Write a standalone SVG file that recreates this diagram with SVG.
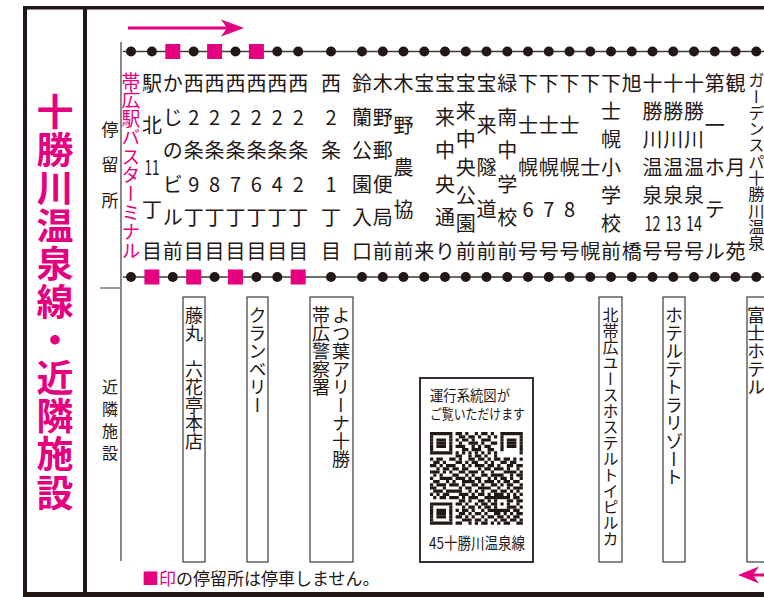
<svg xmlns="http://www.w3.org/2000/svg" xmlns:xlink="http://www.w3.org/1999/xlink" width="764" height="597" viewBox="0 0 764 597">
<style>
text{font-family:"Noto Sans CJK JP","Noto Sans",sans-serif;fill:#231815}
.s{font-size:20px;text-anchor:middle;dominant-baseline:central}
.n2{font-size:19.5px}
.v{writing-mode:vertical-rl}
.f{font-size:18px}
.lbl{font-size:17px;text-anchor:middle;dominant-baseline:central}
.pk{fill:#e4007f}
.box{fill:none;stroke:#3e3a39;stroke-width:1.2}
.route{stroke:#3e3a39;stroke-width:1.3;fill:none}
.qr path{stroke:#231815;stroke-width:1;fill:none}
.qt{dominant-baseline:central}
</style>
<defs>
<circle id="dot" r="5" fill="#231815"/>
<rect id="sq" x="-7.5" y="-7.5" width="15" height="15" fill="#e4007f"/>
</defs>
<rect width="764" height="597" fill="#fff"/>
<g id="frame" fill="#231815">
<rect x="23" y="6" width="741" height="3.5"/>
<rect x="23" y="6" width="4" height="591"/>
<rect x="83" y="6" width="4" height="591"/>
<rect x="23" y="592" width="741" height="5"/>
</g>
<g id="title">
<text class="v pk" x="55" y="93" style="font-size:37px;font-weight:700;letter-spacing:1.1px">十勝川温泉線・近隣施設</text>
</g>
<g id="row-labels">
<text class="lbl"><tspan x="110" y="128">停</tspan><tspan x="110" y="163">留</tspan><tspan x="110" y="199">所</tspan></text>
<text class="lbl" style="font-size:16px"><tspan x="110" y="386">近</tspan><tspan x="110" y="408">隣</tspan><tspan x="110" y="430">施</tspan><tspan x="110" y="452">設</tspan></text>
<line x1="100" y1="288" x2="120" y2="288" stroke="#3e3a39" stroke-width="1"/>
<line x1="121" y1="42" x2="121" y2="561" stroke="#3e3a39" stroke-width="1.2"/>
</g>
<g id="connectors">
<line class="route" x1="123" y1="51.5" x2="764" y2="51.5"/>
<line class="route" x1="123" y1="277" x2="764" y2="277"/>
<path d="M128 28H229" stroke="#e4007f" stroke-width="3"/>
<path d="M244 28L221 19.5L227 28L221 36.5Z" fill="#e4007f"/>
<path d="M752 575H764" stroke="#e4007f" stroke-width="3"/>
<path d="M738 575L759 566.5L753 575L759 583.5Z" fill="#e4007f"/>
</g>
<g id="stop-obihiro-bt"><use href="#dot" x="131" y="51.5"/><use href="#dot" x="131" y="277"/><text class="v pk" x="131" y="72" style="font-size:18.8px">帯広駅バスターミナル</text></g>
<g id="stop-ekikita11"><use href="#dot" x="151.9" y="51.5"/><use href="#sq" x="151.9" y="277"/><text class="s"><tspan x="151.9" y="82">駅</tspan><tspan x="151.9" y="124">北</tspan><tspan x="151.9" y="166" class="n2" textLength="15" lengthAdjust="spacingAndGlyphs">11</tspan><tspan x="151.9" y="208">丁</tspan><tspan x="151.9" y="250">目</tspan></text></g>
<g id="stop-kajino"><use href="#sq" x="172.8" y="51.5"/><use href="#dot" x="172.8" y="277"/><text class="s"><tspan x="172.8" y="82">か</tspan><tspan x="172.8" y="115.6">じ</tspan><tspan x="172.8" y="149.2">の</tspan><tspan x="172.8" y="182.8">ビ</tspan><tspan x="172.8" y="216.4">ル</tspan><tspan x="172.8" y="250">前</tspan></text></g>
<g id="stop-w2-9"><use href="#dot" x="193.7" y="51.5"/><use href="#sq" x="193.7" y="277"/><text class="s"><tspan x="193.7" y="82">西</tspan><tspan x="193.7" y="115.6">2</tspan><tspan x="193.7" y="149.2">条</tspan><tspan x="193.7" y="182.8">9</tspan><tspan x="193.7" y="216.4">丁</tspan><tspan x="193.7" y="250">目</tspan></text></g>
<g id="stop-w2-8"><use href="#sq" x="214.6" y="51.5"/><use href="#dot" x="214.6" y="277"/><text class="s"><tspan x="214.6" y="82">西</tspan><tspan x="214.6" y="115.6">2</tspan><tspan x="214.6" y="149.2">条</tspan><tspan x="214.6" y="182.8">8</tspan><tspan x="214.6" y="216.4">丁</tspan><tspan x="214.6" y="250">目</tspan></text></g>
<g id="stop-w2-7"><use href="#dot" x="235.5" y="51.5"/><use href="#sq" x="235.5" y="277"/><text class="s"><tspan x="235.5" y="82">西</tspan><tspan x="235.5" y="115.6">2</tspan><tspan x="235.5" y="149.2">条</tspan><tspan x="235.5" y="182.8">7</tspan><tspan x="235.5" y="216.4">丁</tspan><tspan x="235.5" y="250">目</tspan></text></g>
<g id="stop-w2-6"><use href="#sq" x="256.4" y="51.5"/><use href="#dot" x="256.4" y="277"/><text class="s"><tspan x="256.4" y="82">西</tspan><tspan x="256.4" y="115.6">2</tspan><tspan x="256.4" y="149.2">条</tspan><tspan x="256.4" y="182.8">6</tspan><tspan x="256.4" y="216.4">丁</tspan><tspan x="256.4" y="250">目</tspan></text></g>
<g id="stop-w2-4"><use href="#dot" x="277.3" y="51.5"/><use href="#dot" x="277.3" y="277"/><text class="s"><tspan x="277.3" y="82">西</tspan><tspan x="277.3" y="115.6">2</tspan><tspan x="277.3" y="149.2">条</tspan><tspan x="277.3" y="182.8">4</tspan><tspan x="277.3" y="216.4">丁</tspan><tspan x="277.3" y="250">目</tspan></text></g>
<g id="stop-w2-2"><use href="#dot" x="298.2" y="51.5"/><use href="#sq" x="298.2" y="277"/><text class="s"><tspan x="298.2" y="82">西</tspan><tspan x="298.2" y="115.6">2</tspan><tspan x="298.2" y="149.2">条</tspan><tspan x="298.2" y="182.8">2</tspan><tspan x="298.2" y="216.4">丁</tspan><tspan x="298.2" y="250">目</tspan></text></g>
<g id="stop-w2-1"><use href="#dot" x="331" y="51.5"/><use href="#dot" x="331" y="277"/><text class="s"><tspan x="331" y="82">西</tspan><tspan x="331" y="115.6">2</tspan><tspan x="331" y="149.2">条</tspan><tspan x="331" y="182.8">1</tspan><tspan x="331" y="216.4">丁</tspan><tspan x="331" y="250">目</tspan></text></g>
<g id="stop-suzuran"><use href="#dot" x="362" y="51.5"/><use href="#dot" x="362" y="277"/><text class="s"><tspan x="362" y="82">鈴</tspan><tspan x="362" y="115.6">蘭</tspan><tspan x="362" y="149.2">公</tspan><tspan x="362" y="182.8">園</tspan><tspan x="362" y="216.4">入</tspan><tspan x="362" y="250">口</tspan></text></g>
<g id="stop-kino-post"><use href="#dot" x="382.8" y="51.5"/><use href="#dot" x="382.8" y="277"/><text class="s"><tspan x="382.8" y="82">木</tspan><tspan x="382.8" y="115.6">野</tspan><tspan x="382.8" y="149.2">郵</tspan><tspan x="382.8" y="182.8">便</tspan><tspan x="382.8" y="216.4">局</tspan><tspan x="382.8" y="250">前</tspan></text></g>
<g id="stop-kino-nokyo"><use href="#dot" x="403.5" y="51.5"/><use href="#dot" x="403.5" y="277"/><text class="s"><tspan x="403.5" y="82">木</tspan><tspan x="403.5" y="124">野</tspan><tspan x="403.5" y="166">農</tspan><tspan x="403.5" y="208">協</tspan><tspan x="403.5" y="250">前</tspan></text></g>
<g id="stop-horai"><use href="#dot" x="424.3" y="51.5"/><use href="#dot" x="424.3" y="277"/><text class="s"><tspan x="424.3" y="82">宝</tspan><tspan x="424.3" y="250">来</tspan></text></g>
<g id="stop-horai-chuo-dori"><use href="#dot" x="445" y="51.5"/><use href="#dot" x="445" y="277"/><text class="s"><tspan x="445" y="82">宝</tspan><tspan x="445" y="115.6">来</tspan><tspan x="445" y="149.2">中</tspan><tspan x="445" y="182.8">央</tspan><tspan x="445" y="216.4">通</tspan><tspan x="445" y="250">り</tspan></text></g>
<g id="stop-horai-chuo-koen"><use href="#dot" x="465.8" y="51.5"/><use href="#dot" x="465.8" y="277"/><text class="s"><tspan x="465.8" y="82">宝</tspan><tspan x="465.8" y="110">来</tspan><tspan x="465.8" y="138">中</tspan><tspan x="465.8" y="166">央</tspan><tspan x="465.8" y="194">公</tspan><tspan x="465.8" y="222">園</tspan><tspan x="465.8" y="250">前</tspan></text></g>
<g id="stop-horai-zuido"><use href="#dot" x="486.5" y="51.5"/><use href="#dot" x="486.5" y="277"/><text class="s"><tspan x="486.5" y="82">宝</tspan><tspan x="486.5" y="124">来</tspan><tspan x="486.5" y="166">隧</tspan><tspan x="486.5" y="208">道</tspan><tspan x="486.5" y="250">前</tspan></text></g>
<g id="stop-midori-minami"><use href="#dot" x="507.3" y="51.5"/><use href="#dot" x="507.3" y="277"/><text class="s"><tspan x="507.3" y="82">緑</tspan><tspan x="507.3" y="115.6">南</tspan><tspan x="507.3" y="149.2">中</tspan><tspan x="507.3" y="182.8">学</tspan><tspan x="507.3" y="216.4">校</tspan><tspan x="507.3" y="250">前</tspan></text></g>
<g id="stop-shimoshihoro6"><use href="#dot" x="528" y="51.5"/><use href="#dot" x="528" y="277"/><text class="s"><tspan x="528" y="82">下</tspan><tspan x="528" y="124">士</tspan><tspan x="528" y="166">幌</tspan><tspan x="528" y="208">6</tspan><tspan x="528" y="250">号</tspan></text></g>
<g id="stop-shimoshihoro7"><use href="#dot" x="548.8" y="51.5"/><use href="#dot" x="548.8" y="277"/><text class="s"><tspan x="548.8" y="82">下</tspan><tspan x="548.8" y="124">士</tspan><tspan x="548.8" y="166">幌</tspan><tspan x="548.8" y="208">7</tspan><tspan x="548.8" y="250">号</tspan></text></g>
<g id="stop-shimoshihoro8"><use href="#dot" x="569.5" y="51.5"/><use href="#dot" x="569.5" y="277"/><text class="s"><tspan x="569.5" y="82">下</tspan><tspan x="569.5" y="124">士</tspan><tspan x="569.5" y="166">幌</tspan><tspan x="569.5" y="208">8</tspan><tspan x="569.5" y="250">号</tspan></text></g>
<g id="stop-shimoshihoro"><use href="#dot" x="590.3" y="51.5"/><use href="#dot" x="590.3" y="277"/><text class="s"><tspan x="590.3" y="82">下</tspan><tspan x="590.3" y="166">士</tspan><tspan x="590.3" y="250">幌</tspan></text></g>
<g id="stop-shimoshihoro-school"><use href="#dot" x="611" y="51.5"/><use href="#dot" x="611" y="277"/><text class="s"><tspan x="611" y="82">下</tspan><tspan x="611" y="110">士</tspan><tspan x="611" y="138">幌</tspan><tspan x="611" y="166">小</tspan><tspan x="611" y="194">学</tspan><tspan x="611" y="222">校</tspan><tspan x="611" y="250">前</tspan></text></g>
<g id="stop-asahibashi"><use href="#dot" x="631.8" y="51.5"/><use href="#dot" x="631.8" y="277"/><text class="s"><tspan x="631.8" y="82">旭</tspan><tspan x="631.8" y="250">橋</tspan></text></g>
<g id="stop-onsen12"><use href="#dot" x="652.5" y="51.5"/><use href="#dot" x="652.5" y="277"/><text class="s"><tspan x="652.5" y="82">十</tspan><tspan x="652.5" y="110">勝</tspan><tspan x="652.5" y="138">川</tspan><tspan x="652.5" y="166">温</tspan><tspan x="652.5" y="194">泉</tspan><tspan x="652.5" y="222" class="n2" textLength="16" lengthAdjust="spacingAndGlyphs">12</tspan><tspan x="652.5" y="250">号</tspan></text></g>
<g id="stop-onsen13"><use href="#dot" x="673.3" y="51.5"/><use href="#dot" x="673.3" y="277"/><text class="s"><tspan x="673.3" y="82">十</tspan><tspan x="673.3" y="110">勝</tspan><tspan x="673.3" y="138">川</tspan><tspan x="673.3" y="166">温</tspan><tspan x="673.3" y="194">泉</tspan><tspan x="673.3" y="222" class="n2" textLength="16" lengthAdjust="spacingAndGlyphs">13</tspan><tspan x="673.3" y="250">号</tspan></text></g>
<g id="stop-onsen14"><use href="#dot" x="694" y="51.5"/><use href="#dot" x="694" y="277"/><text class="s"><tspan x="694" y="82">十</tspan><tspan x="694" y="110">勝</tspan><tspan x="694" y="138">川</tspan><tspan x="694" y="166">温</tspan><tspan x="694" y="194">泉</tspan><tspan x="694" y="222" class="n2" textLength="16" lengthAdjust="spacingAndGlyphs">14</tspan><tspan x="694" y="250">号</tspan></text></g>
<g id="stop-daiichi-hotel"><use href="#dot" x="714.8" y="51.5"/><use href="#dot" x="714.8" y="277"/><text class="s"><tspan x="714.8" y="82">第</tspan><tspan x="714.8" y="124">一</tspan><tspan x="714.8" y="166">ホ</tspan><tspan x="714.8" y="208">テ</tspan><tspan x="714.8" y="250">ル</tspan></text></g>
<g id="stop-kangetsuen"><use href="#dot" x="735.5" y="51.5"/><use href="#dot" x="735.5" y="277"/><text class="s"><tspan x="735.5" y="82">観</tspan><tspan x="735.5" y="166">月</tspan><tspan x="735.5" y="250">苑</tspan></text></g>
<g id="stop-garden-spa"><use href="#dot" x="756.3" y="51.5"/><use href="#dot" x="756.3" y="277"/><text class="v" x="756.3" y="72" style="font-size:16.3px">ガーデンスパ十勝川温泉</text></g>
<g id="fac-fujimaru"><rect class="box" x="183" y="297" width="22" height="265"/><text class="v f" x="194" y="306">藤丸　六花亭本店</text></g>
<g id="fac-cranberry"><rect class="box" x="247" y="297" width="21" height="265"/><text class="v f" x="257.5" y="306">クランベリー</text></g>
<g id="fac-arena"><rect class="box" x="310" y="297" width="43" height="265"/><text class="v f" x="341" y="306">よつ葉アリーナ十勝</text><text class="v f" x="321" y="306">帯広警察署</text></g>
<g id="fac-qr"><rect x="420" y="378" width="113" height="184" fill="none" stroke="#231815" stroke-width="1.8"/>
<text class="qt" x="430" y="394" style="font-size:14.5px" textLength="80" lengthAdjust="spacingAndGlyphs">運行系統図が</text>
<text class="qt" x="430" y="413" style="font-size:13.5px" textLength="95" lengthAdjust="spacingAndGlyphs">ご覧いただけます</text>
<g class="qr" transform="translate(430,432) scale(3.2)">
<path d="M0 0.5h29" stroke-dasharray="7 1 2 1 1 2 1 1 2 1 1 2 7"/>
<path d="M0 1.5h29" stroke-dasharray="1 5 1 2 2 1 2 1 1 2 1 1 1 1 1 5 1"/>
<path d="M0 2.5h29" stroke-dasharray="1 1 3 1 1 1 1 1 2 1 1 2 3 3 1 1 3 1 1"/>
<path d="M0 3.5h29" stroke-dasharray="1 1 3 1 1 2 1 2 3 1 1 2 2 1 1 1 3 1 1"/>
<path d="M0 4.5h29" stroke-dasharray="1 1 3 1 1 1 3 2 1 1 1 1 2 3 1 1 3 1 1"/>
<path d="M0 5.5h29" stroke-dasharray="1 5 1 3 2 1 3 2 2 2 1 5 1"/>
<path d="M0 6.5h29" stroke-dasharray="7 1 1 1 1 1 1 1 1 1 1 1 1 1 1 7"/>
<path d="M0 7.5h29" stroke-dasharray="0 8 2 2 1 1 2 1 1 2 1 8"/>
<path d="M0 8.5h29" stroke-dasharray="1 1 2 2 2 1 1 2 2 1 2 1 1 1 2 1 2 1 1 1 1"/>
<path d="M0 9.5h29" stroke-dasharray="0 1 2 1 1 3 2 1 1 1 2 2 1 1 1 2 2 1 2 2"/>
<path d="M0 10.5h29" stroke-dasharray="2 1 1 1 3 2 1 1 1 1 3 1 2 1 1 2 2 1 2"/>
<path d="M0 11.5h29" stroke-dasharray="0 2 1 1 2 1 2 1 2 3 1 1 2 1 3 1 1 2 1 1"/>
<path d="M0 12.5h29" stroke-dasharray="3 1 1 1 1 2 2 1 3 1 1 2 1 3 4 1 1"/>
<path d="M0 13.5h29" stroke-dasharray="0 1 1 1 1 3 2 2 1 1 1 2 2 1 4 2 1 1 2"/>
<path d="M0 14.5h29" stroke-dasharray="1 2 4 1 3 1 1 1 2 2 1 1 1 1 2 1 1 2 1"/>
<path d="M0 15.5h29" stroke-dasharray="0 1 2 2 1 1 1 2 4 1 1 1 3 1 1 1 2 1 2 1"/>
<path d="M0 16.5h29" stroke-dasharray="1 1 3 1 3 1 1 2 2 1 1 2 2 1 1 1 2 2 1"/>
<path d="M0 17.5h29" stroke-dasharray="2 2 1 4 1 1 2 2 4 2 1 2 1 1 3"/>
<path d="M0 18.5h29" stroke-dasharray="0 1 3 1 5 2 1 1 1 1 1 2 2 1 2 1 1 1 1 1"/>
<path d="M0 19.5h29" stroke-dasharray="1 1 1 1 2 3 3 1 1 1 2 1 1 1 3 1 1 1 1 1 1"/>
<path d="M0 20.5h29" stroke-dasharray="0 1 1 1 2 1 3 1 1 1 3 2 8 1 2 1"/>
<path d="M0 21.5h29" stroke-dasharray="0 9 2 1 1 2 2 1 1 1 1 3 2 1 2"/>
<path d="M0 22.5h29" stroke-dasharray="7 1 2 1 1 2 1 1 2 1 2 1 1 1 1 2 1 1"/>
<path d="M0 23.5h29" stroke-dasharray="1 5 1 3 1 1 2 1 1 1 2 1 1 3 3 1 1"/>
<path d="M0 24.5h29" stroke-dasharray="1 1 3 1 1 1 1 1 2 1 1 2 1 1 7 1 2 1"/>
<path d="M0 25.5h29" stroke-dasharray="1 1 3 1 1 2 2 1 1 1 2 1 1 2 2 1 1 1 1 1 2"/>
<path d="M0 26.5h29" stroke-dasharray="1 1 3 1 1 1 2 1 1 1 1 2 1 1 2 1 2 1 1 1 2 1"/>
<path d="M0 27.5h29" stroke-dasharray="1 5 1 3 3 1 2 1 1 2 1 1 2 1 2 1 1"/>
<path d="M0 28.5h29" stroke-dasharray="7 1 2 2 1 1 1 1 2 1 1 1 1 1 2 2 2"/>
</g>
<text class="qt" x="429" y="542" style="font-size:16px" textLength="96" lengthAdjust="spacingAndGlyphs">45十勝川温泉線</text>
</g>
<g id="fac-youth-hostel"><rect class="box" x="599" y="297" width="23" height="265"/><text class="v" x="610.5" y="307" style="font-size:16px">北帯広ユースホステルトイピルカ</text></g>
<g id="fac-tetra"><rect class="box" x="663" y="297" width="22" height="265"/><text class="v f" x="674" y="306">ホテルテトラリゾート</text></g>
<g id="fac-fuji"><rect class="box" x="747" y="297" width="30" height="265"/><text class="v f" x="756" y="306">富士ホテル</text></g>
<g id="note"><text x="142" y="577" style="font-size:17px;dominant-baseline:central"><tspan class="pk">■印</tspan>の停留所は停車しません。</text></g>
</svg>
